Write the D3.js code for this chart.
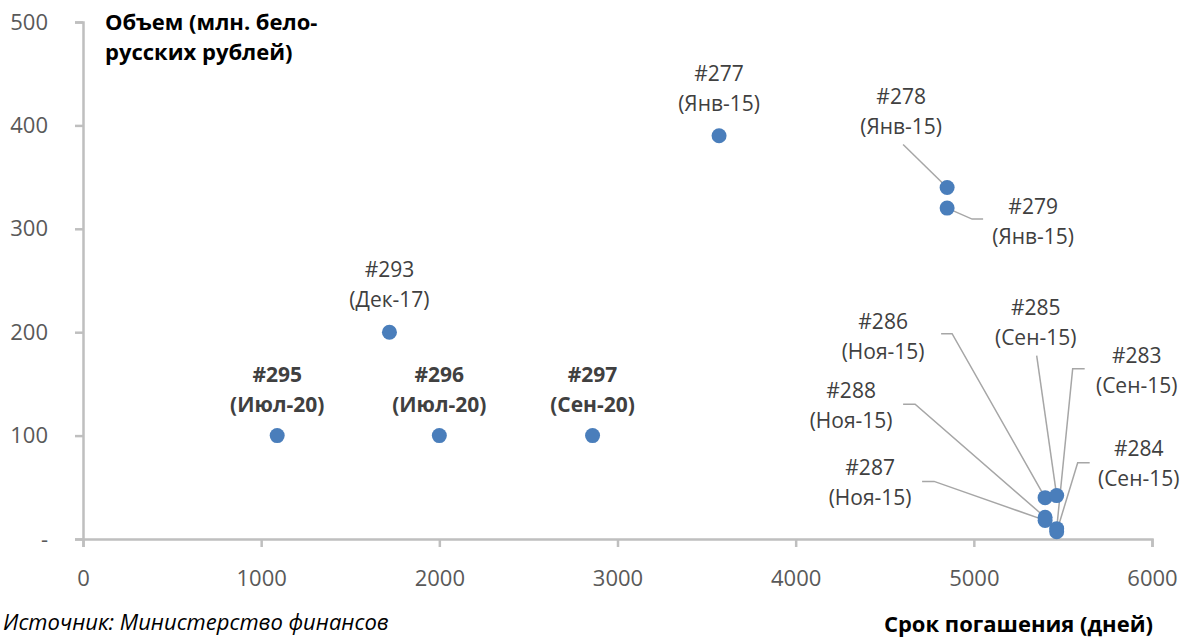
<!DOCTYPE html>
<html>
<head>
<meta charset="utf-8">
<script src="https://cdn.jsdelivr.net/npm/d3@7"></script>
<style>
  html, body { margin: 0; padding: 0; background: #fff; }
  svg { display: block; font-family: "Open Sans", sans-serif; }
</style>
</head>
<body>
<svg id="chart" width="1189" height="637"></svg>
<script>
// Облигации: номер выпуска, месяц погашения, срок (дней), объём (млн. бел. руб.)
const issues   = ["#277", "#278", "#279", "#293", "#295", "#296", "#297", "#286", "#285", "#283", "#288", "#287", "#284"];
const months   = ["(Янв-15)", "(Янв-15)", "(Янв-15)", "(Дек-17)", "(Июл-20)", "(Июл-20)", "(Сен-20)", "(Ноя-15)", "(Сен-15)", "(Сен-15)", "(Ноя-15)", "(Ноя-15)", "(Сен-15)"];
const days     = [3570, 4850, 4850, 1720, 1090, 2000, 2860, 5400, 5465, 5465, 5400, 5400, 5465];
const volumes  = [390, 340, 320, 200, 100, 100, 100, 40, 42, 10, 21, 18, 7];
const boldIds  = ["#295", "#296", "#297"];

const xTicks = [0, 1000, 2000, 3000, 4000, 5000, 6000];
const yTicks = [0, 100, 200, 300, 400, 500];
const yTickLabels = ["-", "100", "200", "300", "400", "500"];

// Label placement: offset of label centre from its point (px) and leader elbow
const labelLayout = {
  "#277": { dx: 0,   dy: -47 },
  "#278": { dx: -46, dy: -75, leader: [[-44, -43], [0, 0]] },
  "#279": { dx: 86,  dy: 14,  leader: [[36, 11], [25, 11], [0, 0]] },
  "#293": { dx: 0,   dy: -47 },
  "#295": { dx: 0,   dy: -46 },
  "#296": { dx: 0,   dy: -46 },
  "#297": { dx: 0,   dy: -46 },
  "#286": { dx: -162, dy: -161, leader: [[-104, -164], [-93, -164], [0, 0]] },
  "#285": { dx: -21,  dy: -173, leader: [[-20, -140], [0, 0]] },
  "#283": { dx: 80,   dy: -158, leader: [[28, -160], [16, -160], [0, 0]] },
  "#288": { dx: -194, dy: -111, leader: [[-142, -113], [-130, -113], [0, 0]] },
  "#287": { dx: -175, dy: -37,  leader: [[-123, -39], [-111, -39], [0, 0]] },
  "#284": { dx: 82,   dy: -68,  leader: [[33, -69], [21, -69], [0, 0]] }
};

const svg = d3.select("#chart");
const margin = { left: 83, right: 37, top: 22, bottom: 98 };
const W = 1189, H = 637;

const x = d3.scaleLinear().domain([0, 6000]).range([margin.left, W - margin.right]);
const y = d3.scaleLinear().domain([0, 500]).range([H - margin.bottom, margin.top]);

const axisColor = "#bfbfbf";
const tickTextColor = "#595959";
const tickFont = 22;

// X axis
const gx = svg.append("g").attr("transform", `translate(0,${y(0)})`)
  .call(d3.axisBottom(x).tickValues(xTicks).tickFormat(d3.format("d")).tickSizeOuter(0).tickSize(8).tickPadding(23));
gx.select(".domain").attr("stroke", axisColor).attr("stroke-width", 2.5);
gx.selectAll(".tick line").attr("stroke", axisColor).attr("stroke-width", 2.5);
gx.selectAll(".tick text").attr("fill", tickTextColor).attr("font-size", tickFont).attr("font-family", "Open Sans");

// Y axis
const gy = svg.append("g").attr("transform", `translate(${x(0)},0)`)
  .call(d3.axisLeft(y).tickValues(yTicks).tickFormat((d, i) => yTickLabels[i]).tickSizeOuter(0).tickSize(8).tickPadding(27));
gy.select(".domain").attr("stroke", axisColor).attr("stroke-width", 2.5);
gy.selectAll(".tick line").attr("stroke", axisColor).attr("stroke-width", 2.5);
gy.selectAll(".tick text").attr("fill", tickTextColor).attr("font-size", tickFont).attr("font-family", "Open Sans");

// Axis titles
svg.append("text").attr("x", 105).attr("y", 30)
  .attr("font-weight", "bold").attr("font-size", 22).attr("fill", "#000")
  .text("Объем (млн. бело-");
svg.append("text").attr("x", 105).attr("y", 60)
  .attr("font-weight", "bold").attr("font-size", 22).attr("fill", "#000")
  .text("русских рублей)");
svg.append("text").attr("x", 1153).attr("y", 632).attr("text-anchor", "end")
  .attr("font-weight", "bold").attr("font-size", 22).attr("fill", "#000")
  .text("Срок погашения (дней)");

// Source note
svg.append("text").attr("x", 3).attr("y", 630)
  .attr("font-style", "italic").attr("font-size", 22).attr("fill", "#000")
  .text("Источник: Министерство финансов");

const pts = issues.map((id, i) => ({ id, month: months[i], d: days[i], v: volumes[i] }));

// Leader lines
const line = d3.line();
svg.append("g").selectAll("path")
  .data(pts.filter(p => labelLayout[p.id].leader))
  .join("path")
  .attr("d", p => line(labelLayout[p.id].leader.map(([a, b]) => [x(p.d) + a, y(p.v) + b])))
  .attr("fill", "none").attr("stroke", "#a6a6a6").attr("stroke-width", 1.5);

// Points
svg.append("g").selectAll("circle")
  .data(pts)
  .join("circle")
  .attr("cx", p => x(p.d)).attr("cy", p => y(p.v)).attr("r", 7.5)
  .attr("fill", "#4a7ebb");

// Data labels
const lbl = svg.append("g").selectAll("text")
  .data(pts)
  .join("text")
  .attr("text-anchor", "middle")
  .attr("font-size", 21)
  .attr("fill", "#404040")
  .attr("font-weight", p => boldIds.includes(p.id) ? "bold" : "normal")
  .attr("transform", p => `translate(${x(p.d) + labelLayout[p.id].dx},${y(p.v) + labelLayout[p.id].dy})`);
lbl.append("tspan").attr("x", 0).attr("y", -8).text(p => p.id);
lbl.append("tspan").attr("x", 0).attr("y", 22).text(p => p.month);
</script>
</body>
</html>
